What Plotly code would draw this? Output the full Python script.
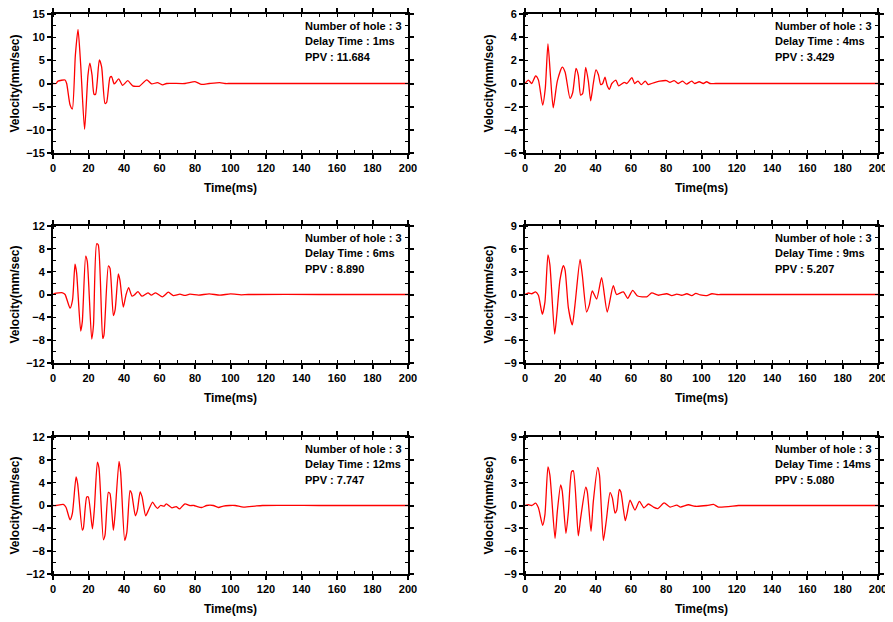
import plotly.graph_objects as go

# ---------------- data ----------------
t1 = [0, 1.7, 2.8, 6.8, 7.7, 9.6, 10.9, 12.6, 14.1, 15.6, 17.8, 19.7, 20.8, 22.0, 23.1, 24.0, 26.1, 27.4,
      29.3, 30.2, 32.1, 33.0, 34.5, 37.0, 39.2, 42.1, 44.9, 48.6, 52.8, 55.6, 58.8, 61.8, 64.0, 74.4, 80.0,
      83.7, 88.0, 94.0, 96.9, 100, 150, 200]
v1 = [0, 0, 0.5, 0.75, 0, -4.6, -5.5, 6.1, 11.684, 4.0, -9.9, 1.8, 4.4, 1.8, -2.3, -2.3, 5.1, 3.6,
      -4.3, -4.1, 1.3, 1.5, -0.1, 1.0, -0.4, 0.6, -0.5, -0.6, 0.8, -0.1, 0.2, -0.3, 0, 0, 0.4,
      -0.2, 0, 0.2, 0, 0, 0, 0]

t2 = [0, 1.9, 3.8, 6.0, 7.6, 10.0, 11.5, 13.0, 14.5, 16.0, 18.3, 21.1, 22.7, 25.5, 27.0, 28.9, 30.2,
      31.5, 32.7, 34.4, 35.9, 37.2, 38.7, 40.2, 41.6, 42.9, 44.0, 45.3, 46.6, 47.8, 49.2, 51.5, 53.0,
      56.2, 57.7, 60.6, 62.1, 64.0, 65.9, 68.1, 69.8, 71.7, 76.4, 80.2, 82.1, 84.5, 86.8, 89.3, 91.5,
      94.4, 96.2, 98.7, 101.0, 102.9, 104.8, 108, 150, 200]
v2 = [0, 0.3, 0, 0.65, 0.3, -1.86, -0.4, 3.429, 0.5, -2.1, 0.2, 1.42, 1.0, -1.28, -0.8, 1.3, 0.7,
      -1.0, -0.85, 1.4, 0.2, -1.5, 0, 1.17, 0.75, -0.1, 0, 0.55, -0.2, -0.5, 0, 0.3, -0.2,
      0.1, 0, 0.5, 0, 0.2, -0.1, 0.2, -0.1, 0, 0.2, 0.25, 0.1, 0.25, 0, 0.2, -0.05,
      0.2, 0, 0.15, 0, 0.15, 0, 0, 0, 0]

t3 = [0, 1.1, 5.4, 6.8, 9.6, 11.0, 12.4, 13.3, 15.6, 16.5, 18.4, 19.3, 21.8, 22.8, 24.6, 25.5, 28.0,
      28.7, 31.2, 32.1, 34.0, 35.0, 36.8, 37.7, 39.6, 41.1, 42.6, 44.5, 45.8, 47.9, 50.1, 53.5, 55.4,
      57.8, 61.7, 65.0, 67.8, 71.5, 74.3, 77.1, 82.0, 88.0, 94.0, 100.0, 106.0, 110, 150, 200]
v3 = [0, 0.2, 0.3, 0, -2.4, -1.0, 5.3, 3.8, -6.4, -4.8, 6.7, 5.8, -7.8, -5.4, 8.890, 8.7, -7.7,
      -7.1, 5.0, 4.6, -3.7, -2.7, 3.6, 2.5, -2.2, -0.1, 1.2, -0.3, -0.1, 0.5, -0.3, 0.3, -0.1,
      0.3, -0.4, 0.4, -0.2, 0.05, -0.15, 0.05, -0.1, 0.1, -0.1, 0.1, -0.05, 0, 0, 0]

t4 = [0, 1.9, 3.8, 6.0, 7.6, 9.8, 11.3, 13.0, 14.1, 16.8, 18.0, 19.8, 21.7, 22.7, 24.6, 26.8, 28.3,
      31.2, 32.5, 34.9, 36.4, 38.1, 40.6, 43.4, 46.6, 50.0, 51.9, 55.7, 58.2, 61.0, 63.8, 69.0, 71.8,
      75.6, 80.3, 83.2, 86.0, 88.8, 91.7, 94.5, 96.8, 99.3, 103.0, 105.9, 108.7, 112, 150, 200]
v4 = [0, 0.2, 0.1, 0.35, -0.1, -2.6, -1.0, 5.207, 3.9, -5.2, -2.7, 1.9, 3.8, 3.2, -1.8, -4.0, -1.4,
      4.6, 2.5, -2.3, -1.4, 0.46, -0.6, 2.2, -2.3, 1.15, 0, 0.35, -0.5, 0.55, -0.2, -0.3, 0.2,
      -0.1, 0.1, -0.15, 0.05, -0.1, 0.1, -0.15, 0.15, -0.05, -0.15, 0.1, 0, 0, 0, 0]

t5 = [0, 1.7, 5.8, 7.3, 9.6, 10.9, 13.0, 13.9, 16.5, 17.1, 19.0, 19.9, 22.2, 23.3, 25.0, 25.9, 28.4,
      29.3, 31.2, 32.1, 34.0, 34.9, 37.2, 38.1, 40.4, 41.6, 43.4, 44.3, 46.4, 47.5, 49.1, 50.2, 52.2,
      53.7, 56.1, 57.4, 58.9, 60.6, 62.7, 63.8, 67.0, 69.4, 71.3, 74.3, 77.1, 79.4, 81.3, 83.8, 86.6,
      90.3, 93.2, 96.0, 99.4, 102.6, 107.3, 113.9, 118, 150, 200]
v5 = [0, 0, 0.2, -0.3, -2.5, -1.4, 5.0, 3.8, -4.3, -4.0, 1.5, 1.5, -4.1, -0.6, 7.6, 6.6, -6.0,
      -5.2, 2.3, 2.1, -4.35, -1.75, 7.747, 5.8, -6.1, -4.7, 2.6, 2.1, -1.8, -0.9, 2.4, 1.5, -1.8,
      -0.9, 0.6, 0, -0.5, 0, -0.1, 0.3, -0.4, -0.2, -0.6, 0.3, 0, 0, -0.2, -0.35, 0,
      0, -0.35, -0.1, 0, 0, -0.3, -0.1, 0, 0, 0]

t6 = [0, 1.9, 3.8, 6.0, 7.6, 10.0, 11.3, 13.0, 14.1, 17.0, 18.3, 20.2, 21.1, 23.2, 24.6, 26.4, 27.4,
      30.2, 31.5, 34.4, 35.3, 37.4, 38.7, 41.2, 42.2, 44.4, 46.0, 48.2, 49.5, 51.0, 52.0, 53.4, 54.3,
      56.8, 57.9, 59.5, 62.3, 64.8, 67.4, 69.9, 72.7, 75.3, 78.8, 82.2, 86.0, 87.9, 92.6, 96.4, 103.0,
      106.8, 109.6, 120.9, 124, 160, 200]
v6 = [0, 0.1, 0, 0.3, -0.3, -2.6, -1.2, 5.080, 4.0, -4.3, -0.8, 2.7, 1.9, -3.65, -0.8, 4.45, 4.55,
      -4.0, -1.7, 2.4, 1.8, -3.4, 0.5, 5.0, 4.0, -4.6, -2.1, 1.7, 1.0, -1.0, -0.6, 2.1, 1.8,
      -2.0, -1.0, 0.7, -0.6, 0.55, -0.3, 0.2, -0.2, -0.4, 0.35, -0.2, 0.05, -0.2, 0.1, -0.1, 0,
      0.15, -0.2, 0, 0, 0, 0]

series = [(t1, v1), (t2, v2), (t3, v3), (t4, v4), (t5, v5), (t6, v6)]
delays = ["1ms", "4ms", "6ms", "9ms", "12ms", "14ms"]
ppvs = ["11.684", "3.429", "8.890", "5.207", "7.747", "5.080"]
holes = 3
ylimits = [15, 6, 12, 9, 12, 9]
ysteps = [5, 2, 4, 3, 4, 3]
x_ticks = list(range(0, 201, 20))

# ---------------- layout ----------------
OFF = 8                      # page body margin
W, H = 893 - OFF, 622 - OFF  # figure size
col_px = [(53, 408), (525, 878)]
row_px = [(14, 153), (226, 363), (437, 574)]
FONT = "Liberation Sans, Arial, sans-serif"

def fx(px):
    return (px - OFF) / W

def fy(py):
    return 1 - (py - OFF) / H

fig = go.Figure()
layout = dict(width=W, height=H, margin=dict(l=0, r=0, t=0, b=0, autoexpand=False),
              paper_bgcolor="white", plot_bgcolor="white", showlegend=False,
              font=dict(family=FONT, size=11, color="black", weight="bold"))
annotations = []

for i, (t, v) in enumerate(series):
    r, c = divmod(i, 2)
    n = i + 1
    xa = "x" if n == 1 else f"x{n}"
    ya = "y" if n == 1 else f"y{n}"
    fig.add_trace(go.Scatter(x=t, y=v, mode="lines", xaxis=xa, yaxis=ya,
                             line=dict(color="#ff0000", width=1.3, shape="spline", smoothing=0.6)))
    x0, x1 = col_px[c]
    y0, y1 = row_px[r]
    lim, st = ylimits[i], ysteps[i]
    common = dict(showline=True, linecolor="black", linewidth=2, mirror="ticks",
                  ticks="outside", ticklen=4, tickwidth=1.5, tickcolor="black",
                  showgrid=False, zeroline=False, automargin=False,
                  ticklabeloverflow="allow",
                  tickfont=dict(family=FONT, size=11, color="black", weight="bold"))
    layout["xaxis" + ("" if n == 1 else str(n))] = dict(
        domain=[fx(x0), fx(x1)], range=[0, 200], anchor=ya,
        tickvals=x_ticks,
        minor=dict(dtick=10, ticks="inside", ticklen=3, tickwidth=1.2, tickcolor="black"),
        title=dict(text="Time(ms)", standoff=10,
                   font=dict(family=FONT, size=12, color="black", weight="bold")),
        **common)
    layout["yaxis" + ("" if n == 1 else str(n))] = dict(
        domain=[fy(y1), fy(y0)], range=[-lim, lim], anchor=xa,
        tickvals=list(range(-lim, lim + 1, st)),
        minor=dict(dtick=st / 2, ticks="inside", ticklen=3, tickwidth=1.2, tickcolor="black"),
        title=dict(text="Velocity(mm/sec)", standoff=8,
                   font=dict(family=FONT, size=12, color="black", weight="bold")),
        **common)
    lines = [f"Number of hole : {holes}", f"Delay Time : {delays[i]}", f"PPV : {ppvs[i]}"]
    tx = fx(303 if c == 0 else 773)
    for k, txt in enumerate(lines):
        ypx = y0 + 11.7 + 15.5 * k
        annotations.append(dict(x=tx, y=fy(ypx), xref="paper", yref="paper",
                                text=txt, showarrow=False, xanchor="left", yanchor="middle",
                                font=dict(family=FONT, size=11, color="black", weight="bold")))

layout["annotations"] = annotations
fig.update_layout(**layout)
fig.write_html("out.html")
